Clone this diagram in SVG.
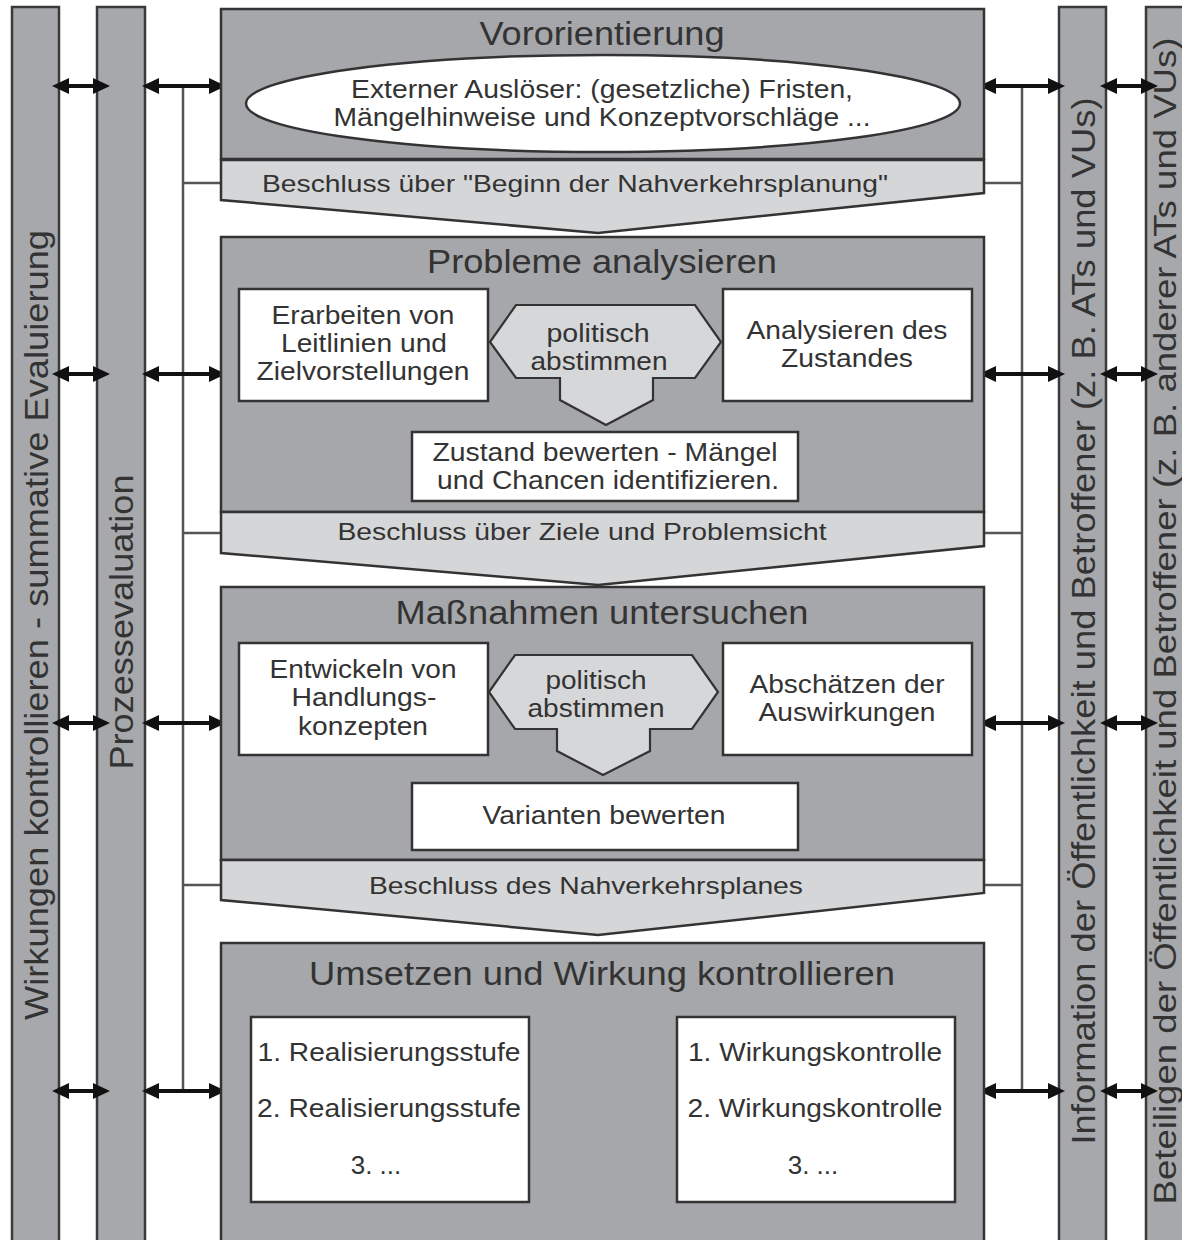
<svg xmlns="http://www.w3.org/2000/svg" width="1182" height="1240" viewBox="0 0 1182 1240">
<defs>
<marker id="ah" viewBox="0 0 17 16" markerWidth="17" markerHeight="16" markerUnits="userSpaceOnUse" refX="7" refY="8" orient="auto-start-reverse">
<path d="M0,0 L17,8 L0,16 Z" fill="#111"/>
</marker>
</defs>
<style>
text{font-family:"Liberation Sans",Arial,sans-serif;fill:#333;}
.bar{fill:#a7a8ab;stroke:#3a3a3a;stroke-width:2.5;}
.main{fill:#a6a7aa;stroke:#333;stroke-width:2.5;}
.band{fill:#d5d6d8;stroke:#333;stroke-width:2.5;stroke-linejoin:miter;}
.box{fill:#fff;stroke:#333;stroke-width:2.5;}
.hex{fill:#d6d7d9;stroke:#333;stroke-width:2.2;}
.ttl{font-size:34px;text-anchor:middle;}
.txt{font-size:26px;text-anchor:middle;}
.sm{font-size:25px;}
.bnd{font-size:24px;text-anchor:middle;}
.vt{font-size:34px;text-anchor:middle;}
.arr{stroke:#111;stroke-width:4;fill:none;marker-start:url(#ah);marker-end:url(#ah);}
.ln{stroke:#555;stroke-width:2.5;fill:none;}
</style>
<rect width="1182" height="1240" fill="#fff"/>

<g id="bar-wirkungen">
<rect class="bar" x="12" y="7" width="47" height="1240"/>
<text class="vt" transform="translate(36,625) rotate(-90)" y="12" textLength="790" lengthAdjust="spacingAndGlyphs">Wirkungen kontrollieren - summative Evaluierung</text>
</g>
<g id="bar-prozess">
<rect class="bar" x="97" y="7" width="48" height="1240"/>
<text class="vt" transform="translate(121,622) rotate(-90)" y="12" textLength="295" lengthAdjust="spacingAndGlyphs">Prozessevaluation</text>
</g>
<g id="bar-information">
<rect class="bar" x="1059" y="7" width="47" height="1240"/>
<text class="vt" transform="translate(1083,621) rotate(-90)" y="12" textLength="1047" lengthAdjust="spacingAndGlyphs">Information der Öffentlichkeit und Betroffener (z. B. ATs und VUs)</text>
</g>
<g id="bar-beteiligen">
<rect class="bar" x="1146" y="7" width="60" height="1240"/>
<text class="vt" style="font-size:32px" transform="translate(1165,621) rotate(-90)" y="11" textLength="1167" lengthAdjust="spacingAndGlyphs">Beteiligen der Öffentlichkeit und Betroffener (z. B. anderer ATs und VUs)</text>
</g>

<g id="connectors">
<path class="ln" d="M183,86 V1091 M183,183 H221 M183,533 H221 M183,885 H221"/>
<path class="ln" d="M1022,86 V1091 M984,183 H1022 M984,533 H1022 M984,885 H1022"/>
<line class="arr" x1="62" y1="86" x2="100" y2="86"/>
<line class="arr" x1="152" y1="86" x2="216" y2="86"/>
<line class="arr" x1="989" y1="86" x2="1055" y2="86"/>
<line class="arr" x1="1110" y1="86" x2="1148" y2="86"/>
<line class="arr" x1="62" y1="374" x2="100" y2="374"/>
<line class="arr" x1="152" y1="374" x2="216" y2="374"/>
<line class="arr" x1="989" y1="374" x2="1055" y2="374"/>
<line class="arr" x1="1110" y1="374" x2="1148" y2="374"/>
<line class="arr" x1="62" y1="723" x2="100" y2="723"/>
<line class="arr" x1="152" y1="723" x2="216" y2="723"/>
<line class="arr" x1="989" y1="723" x2="1055" y2="723"/>
<line class="arr" x1="1110" y1="723" x2="1148" y2="723"/>
<line class="arr" x1="62" y1="1091" x2="100" y2="1091"/>
<line class="arr" x1="152" y1="1091" x2="216" y2="1091"/>
<line class="arr" x1="989" y1="1091" x2="1055" y2="1091"/>
<line class="arr" x1="1110" y1="1091" x2="1148" y2="1091"/>
</g>

<g id="vororientierung">
<rect class="main" x="221" y="9" width="763" height="150"/>
<text class="ttl" x="602" y="45" textLength="245" lengthAdjust="spacingAndGlyphs">Vororientierung</text>
<ellipse cx="603" cy="103.5" rx="357" ry="48.5" fill="#fff" stroke="#333" stroke-width="2.5"/>
<text class="txt sm" x="602" y="98" textLength="502" lengthAdjust="spacingAndGlyphs">Externer Auslöser: (gesetzliche) Fristen,</text>
<text class="txt sm" x="602" y="126" textLength="537" lengthAdjust="spacingAndGlyphs">Mängelhinweise und Konzeptvorschläge ...</text>
</g>
<g id="beschluss-1">
<path class="band" d="M221,160 H984 V193 L598,233 L221,200 Z"/>
<text class="bnd" x="575" y="192" textLength="626" lengthAdjust="spacingAndGlyphs">Beschluss über "Beginn der Nahverkehrsplanung"</text>
</g>

<g id="probleme">
<rect class="main" x="221" y="237" width="763" height="275"/>
<text class="ttl" x="602" y="273" textLength="350" lengthAdjust="spacingAndGlyphs">Probleme analysieren</text>
</g>
<g id="erarbeiten">
<rect class="box" x="239" y="289" width="249" height="112"/>
<text class="txt" x="363" y="324" textLength="183" lengthAdjust="spacingAndGlyphs">Erarbeiten von</text>
<text class="txt" x="364" y="352" textLength="166" lengthAdjust="spacingAndGlyphs">Leitlinien und</text>
<text class="txt" x="363" y="380" textLength="213" lengthAdjust="spacingAndGlyphs">Zielvorstellungen</text>
</g>
<g id="abstimmen-1">
<path class="hex" d="M490,342 L516,305 L695,305 L721,342 L695,378 L653,378 L653,400 L606,425 L560,400 L560,378 L516,378 Z"/>
<text class="txt sm" x="598" y="342" textLength="103" lengthAdjust="spacingAndGlyphs">politisch</text>
<text class="txt sm" x="599" y="370" textLength="137" lengthAdjust="spacingAndGlyphs">abstimmen</text>
</g>
<g id="analysieren">
<rect class="box" x="723" y="289" width="249" height="112"/>
<text class="txt" x="847" y="339" textLength="201" lengthAdjust="spacingAndGlyphs">Analysieren des</text>
<text class="txt" x="847" y="367" textLength="132" lengthAdjust="spacingAndGlyphs">Zustandes</text>
</g>
<g id="zustand-bewerten">
<rect class="box" x="412" y="432" width="386" height="69"/>
<text class="txt" x="605" y="461" textLength="345" lengthAdjust="spacingAndGlyphs">Zustand bewerten - Mängel</text>
<text class="txt" x="608" y="489" textLength="342" lengthAdjust="spacingAndGlyphs">und Chancen identifizieren.</text>
</g>
<g id="beschluss-2">
<path class="band" d="M221,512 H984 V546 L598,585 L221,553 Z"/>
<text class="bnd" x="582" y="540" textLength="489" lengthAdjust="spacingAndGlyphs">Beschluss über Ziele und Problemsicht</text>
</g>

<g id="massnahmen">
<rect class="main" x="221" y="587" width="763" height="273"/>
<text class="ttl" x="602" y="624" textLength="413" lengthAdjust="spacingAndGlyphs">Maßnahmen untersuchen</text>
</g>
<g id="entwickeln">
<rect class="box" x="239" y="643" width="249" height="112"/>
<text class="txt" x="363" y="678" textLength="187" lengthAdjust="spacingAndGlyphs">Entwickeln von</text>
<text class="txt" x="364" y="706" textLength="145" lengthAdjust="spacingAndGlyphs">Handlungs-</text>
<text class="txt" x="363" y="735" textLength="130" lengthAdjust="spacingAndGlyphs">konzepten</text>
</g>
<g id="abstimmen-2">
<path class="hex" d="M489,692 L515,655 L692,655 L718,692 L692,729 L650,729 L650,751 L603,775 L557,751 L557,729 L515,729 Z"/>
<text class="txt sm" x="596" y="689" textLength="101" lengthAdjust="spacingAndGlyphs">politisch</text>
<text class="txt sm" x="596" y="717" textLength="137" lengthAdjust="spacingAndGlyphs">abstimmen</text>
</g>
<g id="abschaetzen">
<rect class="box" x="723" y="643" width="249" height="112"/>
<text class="txt" x="847" y="693" textLength="195" lengthAdjust="spacingAndGlyphs">Abschätzen der</text>
<text class="txt" x="847" y="721" textLength="177" lengthAdjust="spacingAndGlyphs">Auswirkungen</text>
</g>
<g id="varianten">
<rect class="box" x="412" y="783" width="386" height="67"/>
<text class="txt" x="604" y="824" textLength="243" lengthAdjust="spacingAndGlyphs">Varianten bewerten</text>
</g>
<g id="beschluss-3">
<path class="band" d="M221,860 H984 V893 L598,935 L221,900 Z"/>
<text class="bnd" x="586" y="894" textLength="434" lengthAdjust="spacingAndGlyphs">Beschluss des Nahverkehrsplanes</text>
</g>

<g id="umsetzen">
<rect class="main" x="221" y="943" width="763" height="305"/>
<text class="ttl" x="602" y="985" textLength="586" lengthAdjust="spacingAndGlyphs">Umsetzen und Wirkung kontrollieren</text>
</g>
<g id="realisierung">
<rect class="box" x="251" y="1017" width="278" height="185"/>
<text class="txt" x="389" y="1061" textLength="263" lengthAdjust="spacingAndGlyphs">1. Realisierungsstufe</text>
<text class="txt" x="389" y="1117" textLength="264" lengthAdjust="spacingAndGlyphs">2. Realisierungsstufe</text>
<text class="txt" x="376" y="1174">3. ...</text>
</g>
<g id="wirkungskontrolle">
<rect class="box" x="677" y="1017" width="278" height="185"/>
<text class="txt" x="815" y="1061" textLength="254" lengthAdjust="spacingAndGlyphs">1. Wirkungskontrolle</text>
<text class="txt" x="815" y="1117" textLength="255" lengthAdjust="spacingAndGlyphs">2. Wirkungskontrolle</text>
<text class="txt" x="813" y="1174">3. ...</text>
</g>
</svg>
